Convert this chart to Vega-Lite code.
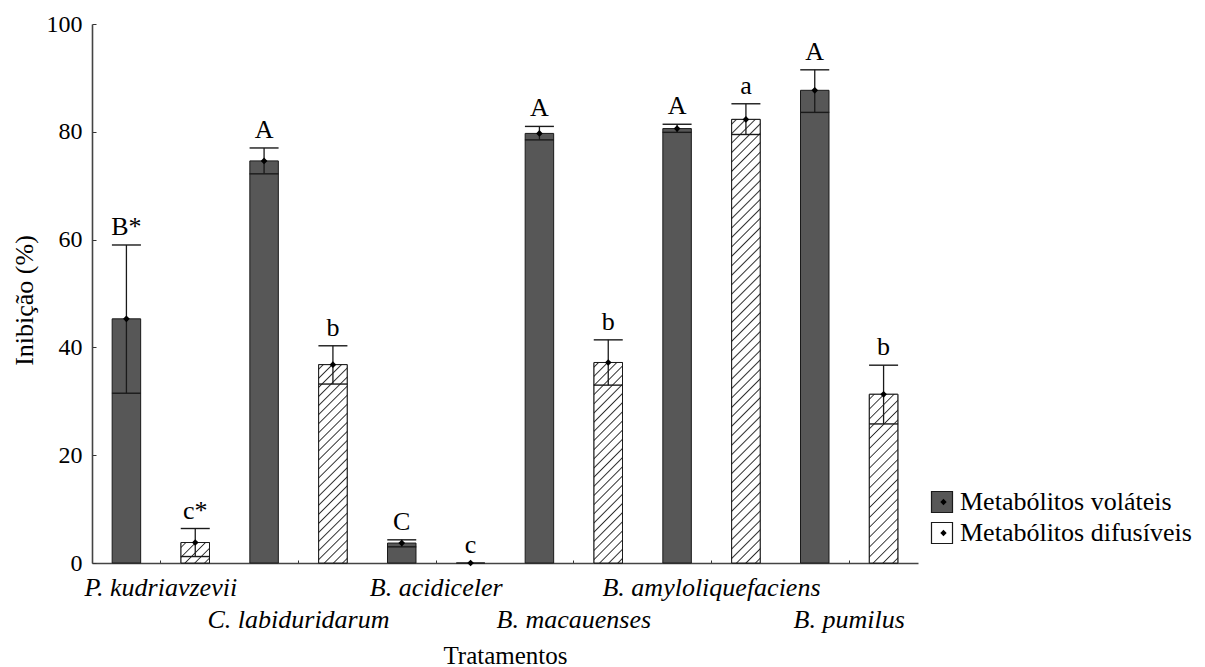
{
  "$schema": "https://vega.github.io/schema/vega-lite/v6.json",
  "width": 826,
  "height": 539,
  "autosize": {"type": "none"},
  "padding": {"left": 92, "top": 24, "right": 287, "bottom": 104},
  "background": "white",
  "config": {
    "view": {"stroke": null},
    "font": "Liberation Serif"
  },
  "data": {
    "values": [
      {"id": 1, "organismo": "P. kudriavzevii", "tipo": "Metabólitos voláteis", "media": 45.3, "inf": 31.5, "sup": 59.0, "letra": "B*"},
      {"id": 2, "organismo": "P. kudriavzevii", "tipo": "Metabólitos difusíveis", "media": 3.8, "inf": 1.2, "sup": 6.4, "letra": "c*"},
      {"id": 3, "organismo": "C. labiduridarum", "tipo": "Metabólitos voláteis", "media": 74.6, "inf": 72.2, "sup": 77.0, "letra": "A"},
      {"id": 4, "organismo": "C. labiduridarum", "tipo": "Metabólitos difusíveis", "media": 36.8, "inf": 33.2, "sup": 40.3, "letra": "b"},
      {"id": 5, "organismo": "B. acidiceler", "tipo": "Metabólitos voláteis", "media": 3.7, "inf": 3.0, "sup": 4.3, "letra": "C"},
      {"id": 6, "organismo": "B. acidiceler", "tipo": "Metabólitos difusíveis", "media": 0, "inf": 0, "sup": 0, "letra": "c"},
      {"id": 7, "organismo": "B. macauenses", "tipo": "Metabólitos voláteis", "media": 79.7, "inf": 78.5, "sup": 81.0, "letra": "A"},
      {"id": 8, "organismo": "B. macauenses", "tipo": "Metabólitos difusíveis", "media": 37.2, "inf": 33.0, "sup": 41.4, "letra": "b"},
      {"id": 9, "organismo": "B. amyloliquefaciens", "tipo": "Metabólitos voláteis", "media": 80.6, "inf": 79.9, "sup": 81.4, "letra": "A"},
      {"id": 10, "organismo": "B. amyloliquefaciens", "tipo": "Metabólitos difusíveis", "media": 82.3, "inf": 79.5, "sup": 85.2, "letra": "a"},
      {"id": 11, "organismo": "B. pumilus", "tipo": "Metabólitos voláteis", "media": 87.7, "inf": 83.6, "sup": 91.5, "letra": "A"},
      {"id": 12, "organismo": "B. pumilus", "tipo": "Metabólitos difusíveis", "media": 31.3, "inf": 25.8, "sup": 36.7, "letra": "b"}
    ]
  },
  "encoding": {
    "x": {
      "field": "organismo",
      "type": "nominal",
      "sort": ["P. kudriavzevii", "C. labiduridarum", "B. acidiceler", "B. macauenses", "B. amyloliquefaciens", "B. pumilus"],
      "scale": {"paddingInner": 0, "paddingOuter": 0},
      "axis": {
        "title": "Tratamentos",
        "titleFont": "Liberation Serif",
        "titleFontSize": 25,
        "titleFontWeight": "normal",
        "titleColor": "#000000",
        "titleX": 413,
        "titleY": 100,
        "titleBaseline": "alphabetic",
        "labelFont": "Liberation Serif",
        "labelFontStyle": "italic",
        "labelFontSize": 26,
        "labelColor": "#000000",
        "labelAngle": 0,
        "labelBaseline": "top",
        "labelPadding": 14,
        "labelLineHeight": 32,
        "labelOverlap": false,
        "labelBound": false,
        "labelFlush": false,
        "labelLimit": 400,
        "labelExpr": "indexof(['C. labiduridarum', 'B. macauenses', 'B. pumilus'], datum.value) >= 0 ? [' ', datum.label] : datum.label",
        "tickSize": -3,
        "tickColor": "#333333",
        "tickWidth": 1,
        "domainColor": "#444444",
        "domainWidth": 1.6
      }
    },
    "xOffset": {
      "field": "tipo",
      "type": "nominal",
      "sort": ["Metabólitos voláteis", "Metabólitos difusíveis"],
      "scale": {"paddingInner": 0.586, "paddingOuter": 0.293}
    }
  },
  "layer": [
    {
      "mark": {"type": "bar", "stroke": "#1a1a1a", "strokeWidth": 1},
      "encoding": {
        "y": {
          "field": "media",
          "type": "quantitative",
          "scale": {"domain": [0, 100], "nice": false},
          "axis": {
            "title": "Inibição (%)",
            "titleFont": "Liberation Serif",
            "titleFontSize": 26,
            "titleFontWeight": "normal",
            "titleColor": "#000000",
            "titleX": -60,
            "titleY": 276,
            "titleAngle": -90,
            "titleBaseline": "alphabetic",
            "values": [0, 20, 40, 60, 80, 100],
            "labelFont": "Liberation Serif",
            "labelFontSize": 24,
            "labelColor": "#000000",
            "labelPadding": 14,
            "tickSize": -4,
            "tickColor": "#333333",
            "tickWidth": 1,
            "domainColor": "#444444",
            "domainWidth": 1.6,
            "grid": false
          }
        },
        "fill": {
          "field": "tipo",
          "type": "nominal",
          "scale": {"domain": ["Metabólitos voláteis", "Metabólitos difusíveis"], "range": ["#575757", "#ffffff"]},
          "legend": {
            "orient": "none",
            "legendX": 837,
            "legendY": 465,
            "title": null,
            "symbolType": "square",
            "symbolSize": 441,
            "symbolStrokeColor": "#1a1a1a",
            "symbolStrokeWidth": 1.2,
            "labelFont": "Liberation Serif",
            "labelFontSize": 26,
            "labelColor": "#000000",
            "labelOffset": 5,
            "labelLimit": 400,
            "rowPadding": 5,
            "padding": 0
          }
        }
      }
    },
    {
      "transform": [{"filter": "datum.id == 2"}],
      "mark": {
        "type": "bar",
        "stroke": "#1a1a1a",
        "strokeWidth": 1,
        "fill": {
          "gradient": "linear", "x1": 0, "y1": 0, "x2": 1.134, "y2": 0.815,
          "stops": [
            {"offset": 0.074, "color": "#fff"}, {"offset": 0.1, "color": "#2e2e2e"}, {"offset": 0.126, "color": "#fff"},
            {"offset": 0.274, "color": "#fff"}, {"offset": 0.3, "color": "#2e2e2e"}, {"offset": 0.326, "color": "#fff"},
            {"offset": 0.474, "color": "#fff"}, {"offset": 0.5, "color": "#2e2e2e"}, {"offset": 0.526, "color": "#fff"},
            {"offset": 0.674, "color": "#fff"}, {"offset": 0.7, "color": "#2e2e2e"}, {"offset": 0.726, "color": "#fff"},
            {"offset": 0.874, "color": "#fff"}, {"offset": 0.9, "color": "#2e2e2e"}, {"offset": 0.926, "color": "#fff"}
          ]
        }
      },
      "encoding": {"y": {"field": "media", "type": "quantitative"}}
    },
    {
      "transform": [{"filter": "datum.id == 4 || datum.id == 8"}],
      "mark": {
        "type": "bar",
        "stroke": "#1a1a1a",
        "strokeWidth": 1,
        "fill": {
          "gradient": "linear", "x1": 0, "y1": 0, "x2": 0.160, "y2": 1.120,
          "stops": [
            {"offset": 0.014, "color": "#fff"}, {"offset": 0.02, "color": "#2e2e2e"}, {"offset": 0.026, "color": "#fff"},
            {"offset": 0.054, "color": "#fff"}, {"offset": 0.06, "color": "#2e2e2e"}, {"offset": 0.066, "color": "#fff"},
            {"offset": 0.094, "color": "#fff"}, {"offset": 0.10, "color": "#2e2e2e"}, {"offset": 0.106, "color": "#fff"},
            {"offset": 0.134, "color": "#fff"}, {"offset": 0.14, "color": "#2e2e2e"}, {"offset": 0.146, "color": "#fff"},
            {"offset": 0.174, "color": "#fff"}, {"offset": 0.18, "color": "#2e2e2e"}, {"offset": 0.186, "color": "#fff"},
            {"offset": 0.214, "color": "#fff"}, {"offset": 0.22, "color": "#2e2e2e"}, {"offset": 0.226, "color": "#fff"},
            {"offset": 0.254, "color": "#fff"}, {"offset": 0.26, "color": "#2e2e2e"}, {"offset": 0.266, "color": "#fff"},
            {"offset": 0.294, "color": "#fff"}, {"offset": 0.30, "color": "#2e2e2e"}, {"offset": 0.306, "color": "#fff"},
            {"offset": 0.334, "color": "#fff"}, {"offset": 0.34, "color": "#2e2e2e"}, {"offset": 0.346, "color": "#fff"},
            {"offset": 0.374, "color": "#fff"}, {"offset": 0.38, "color": "#2e2e2e"}, {"offset": 0.386, "color": "#fff"},
            {"offset": 0.414, "color": "#fff"}, {"offset": 0.42, "color": "#2e2e2e"}, {"offset": 0.426, "color": "#fff"},
            {"offset": 0.454, "color": "#fff"}, {"offset": 0.46, "color": "#2e2e2e"}, {"offset": 0.466, "color": "#fff"},
            {"offset": 0.494, "color": "#fff"}, {"offset": 0.50, "color": "#2e2e2e"}, {"offset": 0.506, "color": "#fff"},
            {"offset": 0.534, "color": "#fff"}, {"offset": 0.54, "color": "#2e2e2e"}, {"offset": 0.546, "color": "#fff"},
            {"offset": 0.574, "color": "#fff"}, {"offset": 0.58, "color": "#2e2e2e"}, {"offset": 0.586, "color": "#fff"},
            {"offset": 0.614, "color": "#fff"}, {"offset": 0.62, "color": "#2e2e2e"}, {"offset": 0.626, "color": "#fff"},
            {"offset": 0.654, "color": "#fff"}, {"offset": 0.66, "color": "#2e2e2e"}, {"offset": 0.666, "color": "#fff"},
            {"offset": 0.694, "color": "#fff"}, {"offset": 0.70, "color": "#2e2e2e"}, {"offset": 0.706, "color": "#fff"},
            {"offset": 0.734, "color": "#fff"}, {"offset": 0.74, "color": "#2e2e2e"}, {"offset": 0.746, "color": "#fff"},
            {"offset": 0.774, "color": "#fff"}, {"offset": 0.78, "color": "#2e2e2e"}, {"offset": 0.786, "color": "#fff"},
            {"offset": 0.814, "color": "#fff"}, {"offset": 0.82, "color": "#2e2e2e"}, {"offset": 0.826, "color": "#fff"},
            {"offset": 0.854, "color": "#fff"}, {"offset": 0.86, "color": "#2e2e2e"}, {"offset": 0.866, "color": "#fff"},
            {"offset": 0.894, "color": "#fff"}, {"offset": 0.90, "color": "#2e2e2e"}, {"offset": 0.906, "color": "#fff"},
            {"offset": 0.934, "color": "#fff"}, {"offset": 0.94, "color": "#2e2e2e"}, {"offset": 0.946, "color": "#fff"},
            {"offset": 0.974, "color": "#fff"}, {"offset": 0.98, "color": "#2e2e2e"}, {"offset": 0.986, "color": "#fff"}
          ]
        }
      },
      "encoding": {"y": {"field": "media", "type": "quantitative"}}
    },
    {
      "transform": [{"filter": "datum.id == 10"}],
      "mark": {
        "type": "bar",
        "stroke": "#1a1a1a",
        "strokeWidth": 1,
        "fill": {
          "gradient": "linear", "x1": 0, "y1": 0, "x2": 0.0681, "y2": 1.0599,
          "stops": [
            {"offset": 0.007, "color": "#fff"}, {"offset": 0.01, "color": "#2e2e2e"}, {"offset": 0.013, "color": "#fff"},
            {"offset": 0.027, "color": "#fff"}, {"offset": 0.03, "color": "#2e2e2e"}, {"offset": 0.033, "color": "#fff"},
            {"offset": 0.047, "color": "#fff"}, {"offset": 0.05, "color": "#2e2e2e"}, {"offset": 0.053, "color": "#fff"},
            {"offset": 0.067, "color": "#fff"}, {"offset": 0.07, "color": "#2e2e2e"}, {"offset": 0.073, "color": "#fff"},
            {"offset": 0.087, "color": "#fff"}, {"offset": 0.09, "color": "#2e2e2e"}, {"offset": 0.093, "color": "#fff"},
            {"offset": 0.107, "color": "#fff"}, {"offset": 0.11, "color": "#2e2e2e"}, {"offset": 0.113, "color": "#fff"},
            {"offset": 0.127, "color": "#fff"}, {"offset": 0.13, "color": "#2e2e2e"}, {"offset": 0.133, "color": "#fff"},
            {"offset": 0.147, "color": "#fff"}, {"offset": 0.15, "color": "#2e2e2e"}, {"offset": 0.153, "color": "#fff"},
            {"offset": 0.167, "color": "#fff"}, {"offset": 0.17, "color": "#2e2e2e"}, {"offset": 0.173, "color": "#fff"},
            {"offset": 0.187, "color": "#fff"}, {"offset": 0.19, "color": "#2e2e2e"}, {"offset": 0.193, "color": "#fff"},
            {"offset": 0.207, "color": "#fff"}, {"offset": 0.21, "color": "#2e2e2e"}, {"offset": 0.213, "color": "#fff"},
            {"offset": 0.227, "color": "#fff"}, {"offset": 0.23, "color": "#2e2e2e"}, {"offset": 0.233, "color": "#fff"},
            {"offset": 0.247, "color": "#fff"}, {"offset": 0.25, "color": "#2e2e2e"}, {"offset": 0.253, "color": "#fff"},
            {"offset": 0.267, "color": "#fff"}, {"offset": 0.27, "color": "#2e2e2e"}, {"offset": 0.273, "color": "#fff"},
            {"offset": 0.287, "color": "#fff"}, {"offset": 0.29, "color": "#2e2e2e"}, {"offset": 0.293, "color": "#fff"},
            {"offset": 0.307, "color": "#fff"}, {"offset": 0.31, "color": "#2e2e2e"}, {"offset": 0.313, "color": "#fff"},
            {"offset": 0.327, "color": "#fff"}, {"offset": 0.33, "color": "#2e2e2e"}, {"offset": 0.333, "color": "#fff"},
            {"offset": 0.347, "color": "#fff"}, {"offset": 0.35, "color": "#2e2e2e"}, {"offset": 0.353, "color": "#fff"},
            {"offset": 0.367, "color": "#fff"}, {"offset": 0.37, "color": "#2e2e2e"}, {"offset": 0.373, "color": "#fff"},
            {"offset": 0.387, "color": "#fff"}, {"offset": 0.39, "color": "#2e2e2e"}, {"offset": 0.393, "color": "#fff"},
            {"offset": 0.407, "color": "#fff"}, {"offset": 0.41, "color": "#2e2e2e"}, {"offset": 0.413, "color": "#fff"},
            {"offset": 0.427, "color": "#fff"}, {"offset": 0.43, "color": "#2e2e2e"}, {"offset": 0.433, "color": "#fff"},
            {"offset": 0.447, "color": "#fff"}, {"offset": 0.45, "color": "#2e2e2e"}, {"offset": 0.453, "color": "#fff"},
            {"offset": 0.467, "color": "#fff"}, {"offset": 0.47, "color": "#2e2e2e"}, {"offset": 0.473, "color": "#fff"},
            {"offset": 0.487, "color": "#fff"}, {"offset": 0.49, "color": "#2e2e2e"}, {"offset": 0.493, "color": "#fff"},
            {"offset": 0.507, "color": "#fff"}, {"offset": 0.51, "color": "#2e2e2e"}, {"offset": 0.513, "color": "#fff"},
            {"offset": 0.527, "color": "#fff"}, {"offset": 0.53, "color": "#2e2e2e"}, {"offset": 0.533, "color": "#fff"},
            {"offset": 0.547, "color": "#fff"}, {"offset": 0.55, "color": "#2e2e2e"}, {"offset": 0.553, "color": "#fff"},
            {"offset": 0.567, "color": "#fff"}, {"offset": 0.57, "color": "#2e2e2e"}, {"offset": 0.573, "color": "#fff"},
            {"offset": 0.587, "color": "#fff"}, {"offset": 0.59, "color": "#2e2e2e"}, {"offset": 0.593, "color": "#fff"},
            {"offset": 0.607, "color": "#fff"}, {"offset": 0.61, "color": "#2e2e2e"}, {"offset": 0.613, "color": "#fff"},
            {"offset": 0.627, "color": "#fff"}, {"offset": 0.63, "color": "#2e2e2e"}, {"offset": 0.633, "color": "#fff"},
            {"offset": 0.647, "color": "#fff"}, {"offset": 0.65, "color": "#2e2e2e"}, {"offset": 0.653, "color": "#fff"},
            {"offset": 0.667, "color": "#fff"}, {"offset": 0.67, "color": "#2e2e2e"}, {"offset": 0.673, "color": "#fff"},
            {"offset": 0.687, "color": "#fff"}, {"offset": 0.69, "color": "#2e2e2e"}, {"offset": 0.693, "color": "#fff"},
            {"offset": 0.707, "color": "#fff"}, {"offset": 0.71, "color": "#2e2e2e"}, {"offset": 0.713, "color": "#fff"},
            {"offset": 0.727, "color": "#fff"}, {"offset": 0.73, "color": "#2e2e2e"}, {"offset": 0.733, "color": "#fff"},
            {"offset": 0.747, "color": "#fff"}, {"offset": 0.75, "color": "#2e2e2e"}, {"offset": 0.753, "color": "#fff"},
            {"offset": 0.767, "color": "#fff"}, {"offset": 0.77, "color": "#2e2e2e"}, {"offset": 0.773, "color": "#fff"},
            {"offset": 0.787, "color": "#fff"}, {"offset": 0.79, "color": "#2e2e2e"}, {"offset": 0.793, "color": "#fff"},
            {"offset": 0.807, "color": "#fff"}, {"offset": 0.81, "color": "#2e2e2e"}, {"offset": 0.813, "color": "#fff"},
            {"offset": 0.827, "color": "#fff"}, {"offset": 0.83, "color": "#2e2e2e"}, {"offset": 0.833, "color": "#fff"},
            {"offset": 0.847, "color": "#fff"}, {"offset": 0.85, "color": "#2e2e2e"}, {"offset": 0.853, "color": "#fff"},
            {"offset": 0.867, "color": "#fff"}, {"offset": 0.87, "color": "#2e2e2e"}, {"offset": 0.873, "color": "#fff"},
            {"offset": 0.887, "color": "#fff"}, {"offset": 0.89, "color": "#2e2e2e"}, {"offset": 0.893, "color": "#fff"},
            {"offset": 0.907, "color": "#fff"}, {"offset": 0.91, "color": "#2e2e2e"}, {"offset": 0.913, "color": "#fff"},
            {"offset": 0.927, "color": "#fff"}, {"offset": 0.93, "color": "#2e2e2e"}, {"offset": 0.933, "color": "#fff"},
            {"offset": 0.947, "color": "#fff"}, {"offset": 0.95, "color": "#2e2e2e"}, {"offset": 0.953, "color": "#fff"},
            {"offset": 0.967, "color": "#fff"}, {"offset": 0.97, "color": "#2e2e2e"}, {"offset": 0.973, "color": "#fff"},
            {"offset": 0.987, "color": "#fff"}, {"offset": 0.99, "color": "#2e2e2e"}, {"offset": 0.993, "color": "#fff"}
          ]
        }
      },
      "encoding": {"y": {"field": "media", "type": "quantitative"}}
    },
    {
      "transform": [{"filter": "datum.id == 12"}],
      "mark": {
        "type": "bar",
        "stroke": "#1a1a1a",
        "strokeWidth": 1,
        "fill": {
          "gradient": "linear", "x1": 0, "y1": 0, "x2": 0.192, "y2": 1.1365,
          "stops": [
            {"offset": 0.0185, "color": "#fff"}, {"offset": 0.025, "color": "#2e2e2e"}, {"offset": 0.0315, "color": "#fff"},
            {"offset": 0.0685, "color": "#fff"}, {"offset": 0.075, "color": "#2e2e2e"}, {"offset": 0.0815, "color": "#fff"},
            {"offset": 0.1185, "color": "#fff"}, {"offset": 0.125, "color": "#2e2e2e"}, {"offset": 0.1315, "color": "#fff"},
            {"offset": 0.1685, "color": "#fff"}, {"offset": 0.175, "color": "#2e2e2e"}, {"offset": 0.1815, "color": "#fff"},
            {"offset": 0.2185, "color": "#fff"}, {"offset": 0.225, "color": "#2e2e2e"}, {"offset": 0.2315, "color": "#fff"},
            {"offset": 0.2685, "color": "#fff"}, {"offset": 0.275, "color": "#2e2e2e"}, {"offset": 0.2815, "color": "#fff"},
            {"offset": 0.3185, "color": "#fff"}, {"offset": 0.325, "color": "#2e2e2e"}, {"offset": 0.3315, "color": "#fff"},
            {"offset": 0.3685, "color": "#fff"}, {"offset": 0.375, "color": "#2e2e2e"}, {"offset": 0.3815, "color": "#fff"},
            {"offset": 0.4185, "color": "#fff"}, {"offset": 0.425, "color": "#2e2e2e"}, {"offset": 0.4315, "color": "#fff"},
            {"offset": 0.4685, "color": "#fff"}, {"offset": 0.475, "color": "#2e2e2e"}, {"offset": 0.4815, "color": "#fff"},
            {"offset": 0.5185, "color": "#fff"}, {"offset": 0.525, "color": "#2e2e2e"}, {"offset": 0.5315, "color": "#fff"},
            {"offset": 0.5685, "color": "#fff"}, {"offset": 0.575, "color": "#2e2e2e"}, {"offset": 0.5815, "color": "#fff"},
            {"offset": 0.6185, "color": "#fff"}, {"offset": 0.625, "color": "#2e2e2e"}, {"offset": 0.6315, "color": "#fff"},
            {"offset": 0.6685, "color": "#fff"}, {"offset": 0.675, "color": "#2e2e2e"}, {"offset": 0.6815, "color": "#fff"},
            {"offset": 0.7185, "color": "#fff"}, {"offset": 0.725, "color": "#2e2e2e"}, {"offset": 0.7315, "color": "#fff"},
            {"offset": 0.7685, "color": "#fff"}, {"offset": 0.775, "color": "#2e2e2e"}, {"offset": 0.7815, "color": "#fff"},
            {"offset": 0.8185, "color": "#fff"}, {"offset": 0.825, "color": "#2e2e2e"}, {"offset": 0.8315, "color": "#fff"},
            {"offset": 0.8685, "color": "#fff"}, {"offset": 0.875, "color": "#2e2e2e"}, {"offset": 0.8815, "color": "#fff"},
            {"offset": 0.9185, "color": "#fff"}, {"offset": 0.925, "color": "#2e2e2e"}, {"offset": 0.9315, "color": "#fff"},
            {"offset": 0.9685, "color": "#fff"}, {"offset": 0.975, "color": "#2e2e2e"}, {"offset": 0.9815, "color": "#fff"}
          ]
        }
      },
      "encoding": {"y": {"field": "media", "type": "quantitative"}}
    },
    {
      "transform": [{"filter": "datum.sup > 0"}],
      "mark": {"type": "rule", "color": "#1a1a1a", "strokeWidth": 1.3},
      "encoding": {
        "y": {"field": "inf", "type": "quantitative"},
        "y2": {"field": "sup"}
      }
    },
    {
      "transform": [{"filter": "datum.sup > 0"}],
      "mark": {"type": "tick", "orient": "horizontal", "color": "#1a1a1a", "size": 29, "thickness": 1.4, "opacity": 1},
      "encoding": {"y": {"field": "sup", "type": "quantitative"}}
    },
    {
      "transform": [{"filter": "datum.sup > 0"}],
      "mark": {"type": "tick", "orient": "horizontal", "color": "#1a1a1a", "size": 29, "thickness": 1.4, "opacity": 1},
      "encoding": {"y": {"field": "inf", "type": "quantitative"}}
    },
    {
      "mark": {"type": "point", "filled": true, "color": "#000000", "size": 45, "opacity": 1},
      "encoding": {
        "y": {"field": "media", "type": "quantitative"},
        "shape": {
          "field": "tipo",
          "type": "nominal",
          "scale": {"domain": ["Metabólitos difusíveis", "Metabólitos voláteis"], "range": ["diamond", "diamond"]},
          "legend": {
            "orient": "none",
            "legendX": 838.5,
            "legendY": 465,
            "title": null,
            "labelExpr": "''",
            "labelFontSize": 26,
            "symbolSize": 40,
            "symbolFillColor": "#000000",
            "symbolStrokeColor": "#000000",
            "symbolStrokeWidth": 0,
            "symbolOpacity": 1,
            "rowPadding": 5,
            "padding": 0
          }
        }
      }
    },
    {
      "mark": {"type": "text", "font": "Liberation Serif", "fontSize": 26, "color": "#000000", "baseline": "alphabetic", "align": "center", "dy": -10},
      "encoding": {
        "y": {"field": "sup", "type": "quantitative"},
        "text": {"field": "letra"}
      }
    }
  ]
}
